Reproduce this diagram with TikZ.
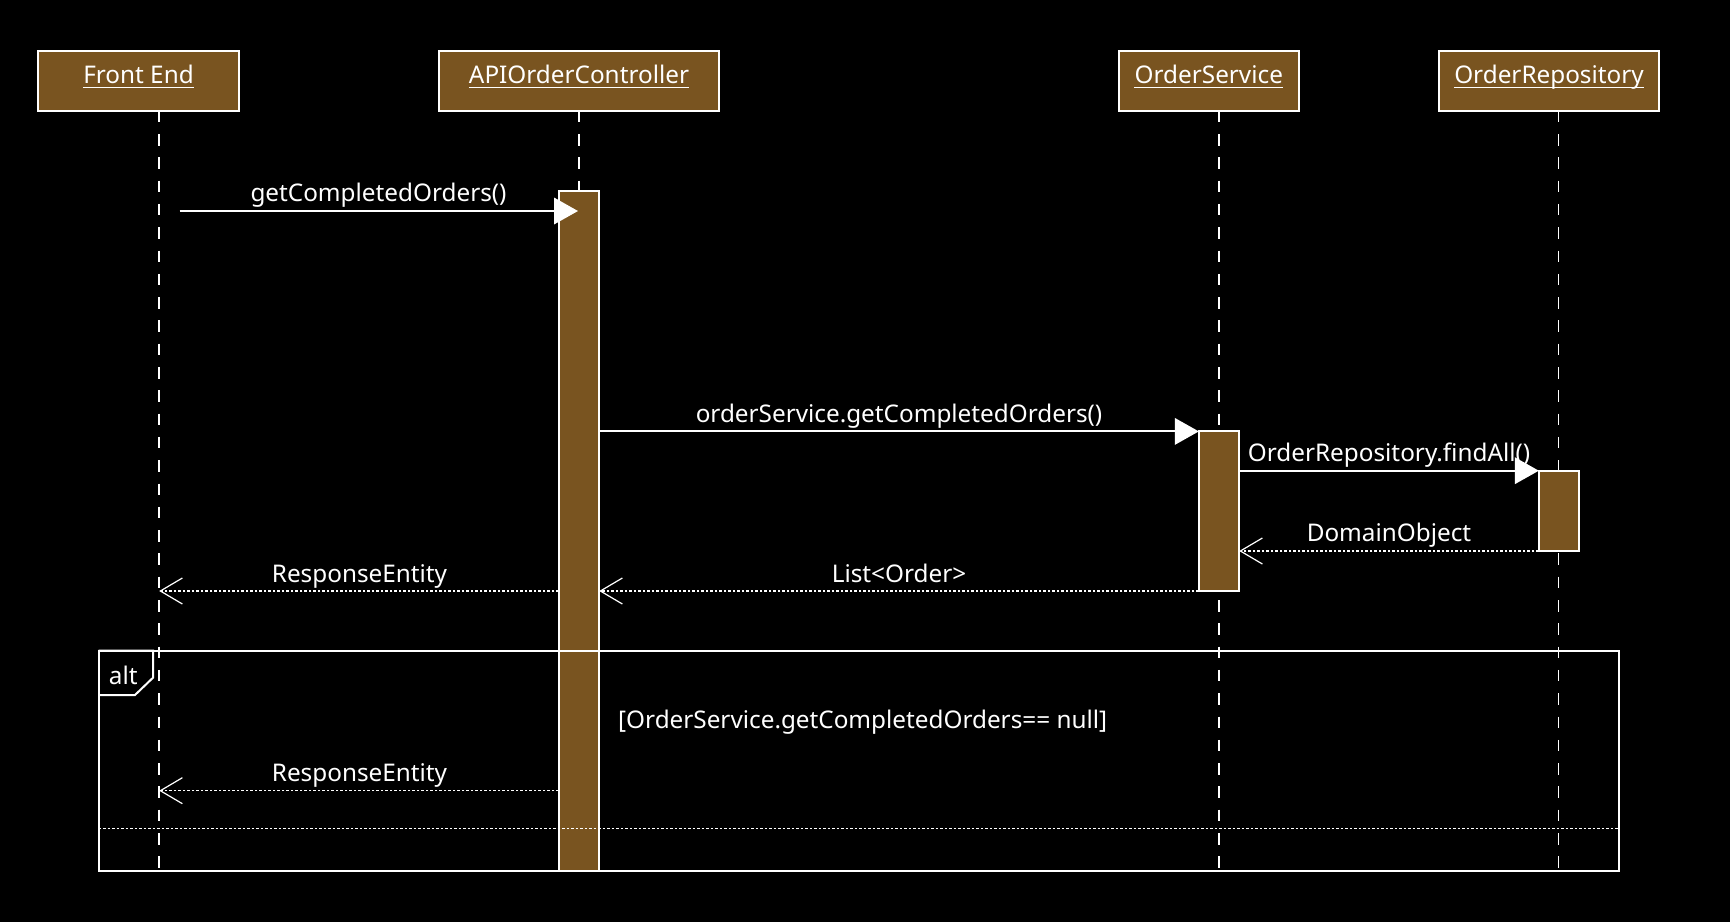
\documentclass[tikz,border=0pt]{standalone}
\usepackage{fontspec}
\setmainfont{Noto Sans}
\usetikzlibrary{arrows.meta}
\definecolor{bx}{RGB}{121,84,32}
\newcommand\diagfont{\fontsize{24.3}{29}\selectfont}
\begin{document}
\begin{tikzpicture}[x=1pt,y=-1pt,
  pbox/.style={draw=white, fill=bx, line width=2pt, inner sep=0pt},
  ptext/.style={text=white, anchor=base, inner sep=0pt, font=\diagfont},
  lbl/.style={text=white, anchor=base, inner sep=0pt, font=\diagfont},
  ulin/.style={draw=white, line width=1.6pt},
  lifeline/.style={draw=white, line width=1.5pt, dash pattern=on 11.5pt off 11.8pt},
  actbar/.style={draw=white, fill=bx, line width=2pt},
  msg/.style={draw=white, line width=2pt, -{Triangle[length=24pt,width=26.5pt,fill=white]}},
  ret/.style={draw=white, line width=1.3pt, dash pattern=on 2.5pt off 2pt, -{Straight Barb[length=22pt,width=26pt,line width=1.2pt]}},
  frame/.style={draw=white, line width=2pt},
  sep/.style={draw=white, line width=1.3pt, dash pattern=on 2.5pt off 2pt}
]
\fill[black] (0,0) rectangle (1730,922);
\useasboundingbox (0,0) rectangle (1730,922);

% participants
\node[pbox, minimum width=200.5pt, minimum height=60pt] (fe) at (138.5,80.7) {};
\node[pbox, minimum width=280.6pt, minimum height=60pt] (api) at (579,80.7) {};
\node[pbox, minimum width=180.2pt, minimum height=60pt] (os) at (1208.8,80.7) {};
\node[pbox, minimum width=220pt, minimum height=60pt] (or) at (1549,80.7) {};

\node[ptext] (fet) at (138.5,83.3) {Front End};
\node[ptext] (apit) at (579,83.3) {APIOrderController};
\node[ptext] (ost) at (1208.8,83.3) {OrderService};
\node[ptext] (ort) at (1549,83.3) {OrderRepository};
\foreach \t in {fet,apit,ost,ort}
  \draw[ulin] ([yshift=-4.3pt]\t.base west) -- ([yshift=-4.3pt]\t.base east);

% lifelines
\coordinate (feTop) at (159.2,110.7);  \coordinate (feBot) at (159.2,870.5);
\coordinate (apiTop) at (579,110.7);   \coordinate (apiBot) at (579,870.5);
\coordinate (osTop) at (1218.8,110.7); \coordinate (osBot) at (1218.8,870.5);
\coordinate (orTop) at (1558.6,110.7); \coordinate (orBot) at (1558.6,870.5);
\draw[lifeline] (feTop) -- (feBot);
\draw[lifeline] (apiTop) -- (apiBot);
\draw[lifeline] (osTop) -- (osBot);
\draw[lifeline] (orTop) -- (orBot);

% activation bars
\draw[actbar] (559,191) rectangle (599,870.5);
\node[inner sep=0pt, minimum width=40pt, minimum height=679.5pt] (apibar) at (579,530.75) {};
\draw[actbar] (1199,431) rectangle (1239,591);
\node[inner sep=0pt, minimum width=40pt, minimum height=160pt] (osbar) at (1219,511) {};
\draw[actbar] (1539,471) rectangle (1579,551);
\node[inner sep=0pt, minimum width=40pt, minimum height=80pt] (orbar) at (1559,511) {};

% alt frame
\node[inner sep=0pt, minimum width=1520pt, minimum height=220pt] (alt) at (858.5,760.7) {};
\draw[frame] (98.5,650.7) rectangle (1618.5,870.7);
\draw[frame] (98.5,650.7) -- (153,650.7) -- (153,677.7) -- (135,695) -- (98.5,695);
\node[lbl, anchor=base west] (altt) at (108.7,684) {alt};
\coordinate (sepL) at (98.5,828.7);
\coordinate (sepR) at (1618.5,828.7);
\draw[sep] (sepL) -- (sepR);
\node[lbl, anchor=base west] (guard) at (618,728.3) {[OrderService.getCompletedOrders== null]};

% messages
\coordinate (m1s) at (179.6,211);
\coordinate (m1e) at (578,211);
\draw[msg] (m1s) -- (m1e);
\node[lbl] (m1l) at (378.5,201.7) {getCompletedOrders()};

\draw[msg] (apibar.east |- 0,431.4) -- (osbar.west |- 0,431.4);
\node[lbl] (m2l) at (899,422.7) {orderService.getCompletedOrders()};

\draw[msg] (osbar.east |- 0,470.7) -- (orbar.west |- 0,470.7);
\node[lbl] (m3l) at (1389,461) {OrderRepository.findAll()};

\draw[ret] (orbar.west |- 0,551) -- (osbar.east |- 0,551);
\node[lbl] (m4l) at (1389,541.7) {DomainObject};

\draw[ret] (osbar.west |- 0,591) -- (apibar.east |- 0,591);
\node[lbl] (m5l) at (899,582) {List<Order>};

\draw[ret] (apibar.west |- 0,591) -- (feTop |- 0,591);
\node[lbl] (m6l) at (359.5,582) {ResponseEntity};

\draw[ret] (apibar.west |- 0,790.7) -- (feTop |- 0,790.7);
\node[lbl] (m7l) at (359.5,781.7) {ResponseEntity};
\end{tikzpicture}
\end{document}
